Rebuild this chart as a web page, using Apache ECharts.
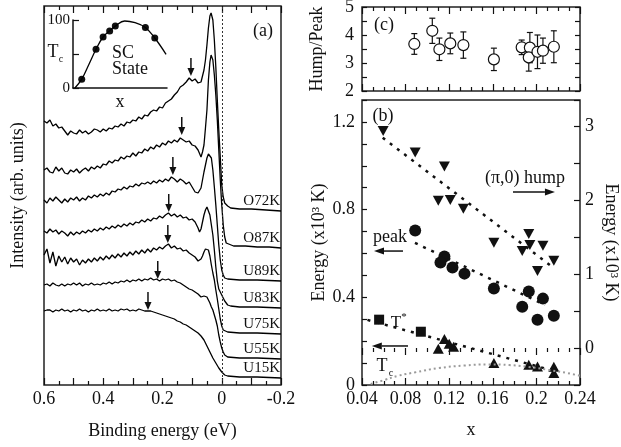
<!DOCTYPE html>
<html>
<head>
<meta charset="utf-8">
<script src="https://cdn.jsdelivr.net/npm/echarts@6.0.0/dist/echarts.min.js"></script>
<style>
html,body{margin:0;padding:0;background:#fff;}
#chart{width:621px;height:447px;}
</style>
</head>
<body>
<div id="chart"></div>
<script>
// ---------- (a) ARPES spectra: [binding energy (eV), intensity (arb. units)] ----------
const specO72K = [[0.60,264],[0.59,262],[0.58,265],[0.57,259],[0.56,261],[0.55,257],[0.54,258],[0.53,254],[0.52,250],[0.51,254],[0.50,252],[0.49,251],[0.48,255],[0.47,252],[0.46,254],[0.45,251],[0.44,253],[0.43,256],[0.42,255],[0.41,253],[0.40,256],[0.39,254],[0.38,257],[0.37,256],[0.36,259],[0.35,258],[0.34,261],[0.33,259],[0.32,263],[0.31,262],[0.30,265],[0.29,264],[0.28,268],[0.27,266],[0.26,270],[0.25,269],[0.24,273],[0.23,275],[0.22,274],[0.21,278],[0.20,277],[0.19,282],[0.18,284],[0.17,286],[0.16,290],[0.15,293],[0.14,298],[0.13,300],[0.12,303],[0.11,307],[0.10,304],[0.09,306],[0.08,302],[0.075,304],[0.07,303],[0.065,309],[0.06,315],[0.055,325],[0.05,340],[0.045,357],[0.04,369],[0.036,372],[0.03,365],[0.025,345],[0.02,318],[0.015,285],[0.01,255],[0.005,228],[0,200],[-0.005,188],[-0.01,182],[-0.02,179],[-0.03,177],[-0.06,176],[-0.10,176],[-0.15,175],[-0.20,174]];
const specO87K = [[0.60,215],[0.59,217],[0.58,213],[0.57,212],[0.56,218],[0.55,214],[0.54,217],[0.53,212],[0.52,211],[0.51,215],[0.50,213],[0.49,216],[0.48,212],[0.47,215],[0.46,217],[0.45,214],[0.44,218],[0.43,216],[0.42,219],[0.41,217],[0.40,221],[0.39,220],[0.38,224],[0.37,222],[0.36,225],[0.35,224],[0.34,228],[0.33,226],[0.32,229],[0.31,228],[0.30,232],[0.29,229],[0.28,233],[0.27,232],[0.26,236],[0.25,234],[0.24,238],[0.23,236],[0.22,240],[0.21,238],[0.20,242],[0.19,240],[0.18,244],[0.17,242],[0.16,245],[0.15,243],[0.14,247],[0.135,249],[0.13,245],[0.12,243],[0.11,244],[0.10,240],[0.09,239],[0.08,235],[0.07,228],[0.065,233],[0.06,240],[0.055,257],[0.05,275],[0.045,305],[0.04,323],[0.036,330],[0.03,325],[0.025,310],[0.02,290],[0.015,265],[0.01,235],[0.005,205],[0,180],[-0.005,160],[-0.01,148],[-0.015,142],[-0.02,140],[-0.04,139],[-0.08,139],[-0.12,138],[-0.16,138],[-0.20,137]];
const specU89K = [[0.60,185],[0.59,182],[0.58,187],[0.57,184],[0.56,188],[0.55,185],[0.54,182],[0.53,186],[0.52,183],[0.51,187],[0.50,185],[0.49,188],[0.48,184],[0.47,187],[0.46,185],[0.45,189],[0.44,187],[0.43,190],[0.42,188],[0.41,191],[0.40,189],[0.39,192],[0.38,190],[0.37,194],[0.36,193],[0.35,196],[0.34,195],[0.33,198],[0.32,196],[0.31,199],[0.30,198],[0.29,201],[0.28,199],[0.27,202],[0.26,201],[0.25,203],[0.24,201],[0.23,204],[0.22,202],[0.21,205],[0.20,203],[0.19,206],[0.18,204],[0.17,208],[0.16,206],[0.15,203],[0.14,206],[0.13,204],[0.12,201],[0.11,203],[0.10,198],[0.09,193],[0.08,192],[0.07,197],[0.065,205],[0.06,213],[0.055,220],[0.05,227],[0.045,231],[0.04,232],[0.035,227],[0.03,215],[0.025,198],[0.02,180],[0.015,160],[0.01,140],[0.005,125],[0,115],[-0.005,110],[-0.01,107],[-0.02,106],[-0.06,105],[-0.12,105],[-0.20,104]];
const specU83K = [[0.60,154],[0.59,152],[0.58,156],[0.57,153],[0.56,155],[0.55,151],[0.54,154],[0.53,152],[0.52,149],[0.51,153],[0.50,150],[0.49,153],[0.48,151],[0.47,154],[0.46,152],[0.45,155],[0.44,153],[0.43,156],[0.42,154],[0.41,157],[0.40,155],[0.39,158],[0.38,156],[0.37,159],[0.36,157],[0.35,160],[0.34,158],[0.33,161],[0.32,159],[0.31,162],[0.30,160],[0.29,163],[0.28,162],[0.27,165],[0.26,163],[0.25,166],[0.24,164],[0.23,167],[0.22,166],[0.21,169],[0.20,167],[0.19,170],[0.18,172],[0.17,169],[0.16,171],[0.15,168],[0.14,170],[0.13,167],[0.12,168],[0.11,165],[0.10,166],[0.09,163],[0.08,157],[0.075,153],[0.07,156],[0.065,163],[0.06,170],[0.055,175],[0.05,178],[0.045,176],[0.04,170],[0.035,160],[0.03,150],[0.025,135],[0.02,118],[0.015,104],[0.01,96],[0.005,93],[0,90],[-0.005,87],[-0.01,84],[-0.02,80],[-0.03,79],[-0.06,78],[-0.12,78],[-0.20,77]];
const specU75K = [[0.60,130],[0.59,136],[0.58,122],[0.57,133],[0.56,119],[0.55,129],[0.54,123],[0.53,128],[0.52,121],[0.51,127],[0.50,123],[0.49,126],[0.48,120],[0.47,125],[0.46,122],[0.45,126],[0.44,123],[0.43,127],[0.42,124],[0.41,128],[0.40,125],[0.39,129],[0.38,126],[0.37,130],[0.36,127],[0.35,131],[0.34,128],[0.33,132],[0.32,129],[0.31,133],[0.30,130],[0.29,134],[0.28,131],[0.27,135],[0.26,132],[0.25,136],[0.24,133],[0.23,137],[0.22,135],[0.21,138],[0.20,136],[0.19,139],[0.18,141],[0.17,137],[0.16,139],[0.15,136],[0.14,137],[0.13,134],[0.12,135],[0.11,132],[0.10,130],[0.09,128],[0.08,124],[0.075,123],[0.07,126],[0.065,129],[0.06,133],[0.055,136],[0.05,137],[0.045,135],[0.04,129],[0.035,120],[0.03,112],[0.025,105],[0.02,95],[0.015,86],[0.01,76],[0.005,66],[0,59],[-0.005,55],[-0.01,53],[-0.02,53],[-0.06,52],[-0.12,52],[-0.20,51]];
const specU55K = [[0.60,100],[0.59,101],[0.58,99],[0.57,102],[0.56,100],[0.55,99],[0.54,101],[0.53,99],[0.52,101],[0.51,100],[0.50,102],[0.49,100],[0.48,102],[0.47,99],[0.46,101],[0.45,100],[0.44,102],[0.43,100],[0.42,101],[0.41,100],[0.40,102],[0.39,101],[0.38,103],[0.37,101],[0.36,103],[0.35,102],[0.34,104],[0.33,103],[0.32,105],[0.31,103],[0.30,105],[0.29,104],[0.28,106],[0.27,104],[0.26,106],[0.25,105],[0.24,107],[0.23,105],[0.22,106],[0.21,104],[0.20,106],[0.19,105],[0.18,106],[0.17,104],[0.16,105],[0.15,103],[0.14,102],[0.13,100],[0.12,98],[0.11,96],[0.10,95],[0.09,93],[0.08,91],[0.07,88],[0.06,89],[0.055,90],[0.05,88],[0.045,85],[0.04,82],[0.035,78],[0.03,75],[0.025,70],[0.02,65],[0.015,59],[0.01,50],[0.005,43],[0,37],[-0.005,33],[-0.01,30],[-0.02,28],[-0.06,27],[-0.12,27],[-0.20,26]];
const specU15K = [[0.60,74],[0.59,75],[0.58,75],[0.57,73],[0.56,75],[0.55,74],[0.54,76],[0.53,74],[0.52,75],[0.51,73],[0.50,75],[0.49,74],[0.48,76],[0.47,74],[0.46,75],[0.45,73],[0.44,75],[0.43,74],[0.42,76],[0.41,74],[0.40,75],[0.39,74],[0.38,76],[0.37,74],[0.36,75],[0.35,74],[0.34,76],[0.33,75],[0.32,76],[0.31,74],[0.30,75],[0.29,74],[0.28,76],[0.27,75],[0.26,74],[0.25,74],[0.24,74],[0.23,73],[0.22,72],[0.21,71],[0.20,70],[0.19,69],[0.18,68],[0.17,67],[0.16,66],[0.15,64],[0.14,63],[0.13,61],[0.12,60],[0.11,58],[0.10,56],[0.09,54],[0.08,52],[0.07,49],[0.06,45],[0.05,39],[0.04,33],[0.03,27],[0.02,22],[0.01,17],[0,13],[-0.01,10],[-0.02,9],[-0.06,8],[-0.12,8],[-0.20,7]];

const spectrumNames = ['O72K','O87K','U89K','U83K','U75K','U55K','U15K'];
const spectrumData  = [specO72K, specO87K, specU89K, specU83K, specU75K, specU55K, specU15K];
// (π,0) hump position marked on each spectrum: [binding energy, intensity at arrow tip]
const humpArrows = [[0.104,309],[0.135,250],[0.165,210],[0.179,173],[0.182,142],[0.216,106],[0.249,75]];

// ---------- inset: superconducting dome, Tc vs x ----------
const domeCurve   = [[0.02,0],[0.093,13],[0.17,35],[0.245,57],[0.32,75],[0.39,84],[0.45,91],[0.55,98.5],[0.66,96],[0.77,89],[0.87,73.5],[0.99,49.5]];
const domeSamples = [[0.093,13],[0.245,57],[0.32,75],[0.39,84],[0.45,91],[0.77,89],[0.87,73.5]];

// ---------- (c) hump/peak ratio: [x, ratio, error] ----------
const ratioData = [[0.088,3.68,0.37],[0.1045,4.15,0.45],[0.111,3.49,0.40],[0.121,3.70,0.37],[0.133,3.64,0.47],[0.161,3.13,0.40],[0.1865,3.56,0.26],[0.194,3.55,0.54],[0.193,3.20,0.49],[0.201,3.40,0.60],[0.206,3.44,0.45],[0.216,3.58,0.57]];

// ---------- (b) energy scales ----------
const humpEnergy = [[0.0594,2.93],[0.0888,2.64],[0.1156,2.45],[0.110,1.99],[0.121,2.00],[0.133,1.88],[0.161,1.42],[0.187,1.31],[0.193,1.54],[0.194,1.39],[0.206,1.38],[0.201,1.04],[0.216,1.18]]; // right axis
const peakEnergy = [[0.0888,0.705],[0.1156,0.586],[0.112,0.559],[0.123,0.536],[0.134,0.508],[0.161,0.44],[0.187,0.357],[0.193,0.426],[0.206,0.394],[0.201,0.298],[0.216,0.316]];
const tStarSquares   = [[0.0557,0.298],[0.094,0.243]];
const tStarTriangles = [[0.110,0.165],[0.1156,0.21],[0.120,0.188],[0.124,0.174],[0.161,0.10],[0.193,0.092],[0.201,0.084],[0.216,0.083],[0.216,0.055]];
const humpFit  = [[0.059,2.84],[0.216,1.08]];
const peakFit  = [[0.0886,0.648],[0.208,0.365]];
const tStarFit = [[0.045,0.297],[0.215,0.066]];
const tcLine   = [[0.048,0.005],[0.06,0.022],[0.073,0.042],[0.089,0.058],[0.11,0.077],[0.134,0.089],[0.156,0.094],[0.175,0.091],[0.192,0.083],[0.211,0.069],[0.229,0.054],[0.24,0.042]];

const INK = '#111';
const FONT = '"Liberation Serif", "Times New Roman", serif';
const lineStyleInk = {color: INK, width: 1.2};
const nameStyle = {fontFamily: FONT, fontSize: 18, color: INK};
const labelStyle = {fontFamily: FONT, fontSize: 18, color: INK};
const solidInk = {color: INK, opacity: 1};

function tickAxis(extra) {
  return Object.assign({
    type: 'value',
    axisLine: {show: false},
    splitLine: {show: false},
    axisTick: {show: true, inside: true, length: 6, lineStyle: lineStyleInk},
    axisLabel: {show: false},
    axisPointer: {show: false}
  }, extra);
}

// arrow drawn as a shaft plus a filled head, both placed through the axes
function arrowItems(from, to, headLen, headHalf) {
  return {from, to, headLen, headHalf};
}

const chart = echarts.init(document.getElementById('chart'), null, {renderer: 'canvas'});

const frame = {show: true, borderColor: '#222', borderWidth: 1.5, backgroundColor: 'transparent', outerBoundsMode: 'none', containLabel: false};

const spectrumSeries = spectrumData.map((d, i) => ({
  type: 'line', name: spectrumNames[i], xAxisIndex: 0, yAxisIndex: 0,
  data: d, showSymbol: false, symbol: 'none', silent: true,
  lineStyle: {color: '#000', width: 1.3, opacity: 1}, z: 3,
  markPoint: {
    silent: true, symbol: 'circle', symbolSize: 0, itemStyle: {color: 'transparent'},
    label: {show: true, position: 'left', distance: 1, offset: [0, -10], formatter: spectrumNames[i],
            fontFamily: FONT, fontSize: 15, color: INK},
    data: [{coord: d[d.length - 1]}]
  }
}));

// custom renderer for arrows given as [x0, y0, x1, y1] in data units
function arrowRenderer(headLen, headHalf, width) {
  return (params, api) => {
    const p0 = api.coord([api.value(0), api.value(1)]);
    const p1 = api.coord([api.value(2), api.value(3)]);
    const dx = p1[0] - p0[0], dy = p1[1] - p0[1];
    const L = Math.sqrt(dx * dx + dy * dy) || 1;
    const ux = dx / L, uy = dy / L;
    const bx = p1[0] - ux * headLen, by = p1[1] - uy * headLen;
    return {type: 'group', children: [
      {type: 'line', shape: {x1: p0[0], y1: p0[1], x2: bx, y2: by}, style: {stroke: INK, lineWidth: width}},
      {type: 'polygon', shape: {points: [[p1[0], p1[1]], [bx - uy * headHalf, by + ux * headHalf], [bx + uy * headHalf, by - ux * headHalf]]},
        style: {fill: INK}}
    ]};
  };
}

const humpArrowData = humpArrows.map(([e, tip]) => [e, tip + 18, e, tip]);
const panelBArrows = [
  [0.1785, 0.880, 0.217, 0.880],
  [0.0776, 0.611, 0.051, 0.611],
  [0.0822, 0.178, 0.049, 0.178]
];

const option = {
  animation: false,
  backgroundColor: '#fff',
  textStyle: {fontFamily: FONT},
  grid: [
    Object.assign({left: 44, top: 6, width: 237, height: 379}, frame),
    {left: 73, top: 20, width: 94, height: 68, show: false, outerBoundsMode: 'none', containLabel: false},
    Object.assign({left: 362, top: 7, width: 218, height: 84}, frame),
    Object.assign({left: 362, top: 100, width: 218, height: 285}, frame)
  ],
  xAxis: [
    tickAxis({gridIndex: 0, position: 'bottom', min: -0.2, max: 0.6, interval: 0.1, inverse: true,
      axisTick: {show: true, inside: true, length: 7, lineStyle: lineStyleInk},
      minorTick: {show: true, splitNumber: 2, length: 4, lineStyle: lineStyleInk},
      axisLabel: Object.assign({show: true, margin: 5, formatter: v => {
        const k = Math.round(v * 10); return k % 2 === 0 ? (k === 0 ? '0' : String(k / 10)) : ''; }}, labelStyle),
      name: 'Binding energy (eV)', nameLocation: 'middle', nameGap: 37, nameTextStyle: nameStyle}),
    tickAxis({gridIndex: 0, position: 'top', min: -0.2, max: 0.6, interval: 0.1, inverse: true,
      axisTick: {show: true, inside: true, length: 7, lineStyle: lineStyleInk},
      minorTick: {show: true, splitNumber: 2, length: 4, lineStyle: lineStyleInk}}),
    {type: 'value', gridIndex: 1, min: 0, max: 1,
      axisLine: {show: true, onZero: false, lineStyle: {color: INK, width: 1.5}},
      axisTick: {show: false}, axisLabel: {show: false}, splitLine: {show: false},
      name: 'x', nameLocation: 'middle', nameGap: 5, nameTextStyle: nameStyle},
    tickAxis({gridIndex: 2, position: 'bottom', min: 0.04, max: 0.24, interval: 0.04,
      axisTick: {show: true, inside: true, length: 7, lineStyle: lineStyleInk},
      minorTick: {show: true, splitNumber: 4, length: 4, lineStyle: lineStyleInk}}),
    tickAxis({gridIndex: 2, position: 'top', min: 0.04, max: 0.24, interval: 0.04,
      axisTick: {show: true, inside: true, length: 7, lineStyle: lineStyleInk},
      minorTick: {show: true, splitNumber: 4, length: 4, lineStyle: lineStyleInk}}),
    tickAxis({gridIndex: 3, position: 'bottom', min: 0.04, max: 0.24, interval: 0.04,
      axisTick: {show: true, inside: true, length: 7, lineStyle: lineStyleInk},
      minorTick: {show: true, splitNumber: 4, length: 4, lineStyle: lineStyleInk},
      axisLabel: Object.assign({show: true, margin: 5, formatter: v => {
        const k = Math.round(v * 100); return k % 4 === 0 ? String(k / 100) : ''; }}, labelStyle),
      name: 'x', nameLocation: 'middle', nameGap: 36, nameTextStyle: nameStyle}),
    tickAxis({gridIndex: 3, position: 'top', min: 0.04, max: 0.24, interval: 0.04,
      axisTick: {show: true, inside: true, length: 7, lineStyle: lineStyleInk},
      minorTick: {show: true, splitNumber: 4, length: 4, lineStyle: lineStyleInk}})
  ],
  yAxis: [
    {type: 'value', gridIndex: 0, min: 0, max: 379,
      axisLine: {show: false}, axisTick: {show: false}, axisLabel: {show: false}, splitLine: {show: false},
      name: 'Intensity (arb. units)', nameLocation: 'middle', nameGap: 17, nameTextStyle: nameStyle},
    {type: 'value', gridIndex: 1, min: 0, max: 100, interval: 50,
      axisLine: {show: true, onZero: false, lineStyle: {color: INK, width: 1.5}},
      axisTick: {show: true, inside: true, length: 6, lineStyle: {color: INK, width: 1.2}},
      axisLabel: {show: true, margin: 3, fontFamily: FONT, fontSize: 15, color: INK,
        formatter: v => (v === 50 ? '' : String(v))},
      splitLine: {show: false}},
    tickAxis({gridIndex: 2, position: 'left', min: 2, max: 5, interval: 0.5, axisTick: {show: true, inside: true, length: 5, lineStyle: lineStyleInk},
      axisLabel: Object.assign({show: true, margin: 8, formatter: v => (Math.abs(v - Math.round(v)) < 1e-6 ? String(Math.round(v)) : '')}, labelStyle),
      name: 'Hump/Peak', nameLocation: 'middle', nameGap: 36, nameTextStyle: nameStyle}),
    tickAxis({gridIndex: 2, position: 'right', min: 2, max: 5, interval: 0.5, axisTick: {show: true, inside: true, length: 5, lineStyle: lineStyleInk}}),
    tickAxis({gridIndex: 3, position: 'left', min: 0, max: 1.3, interval: 0.1, axisTick: {show: true, inside: true, length: 5, lineStyle: lineStyleInk},
      axisLabel: Object.assign({show: true, margin: 7, formatter: v => {
        const k = Math.round(v * 10); return k % 4 === 0 ? (k === 0 ? '0' : (k / 10).toFixed(1)) : ''; }}, labelStyle),
      name: 'Energy (x10³ K)', nameLocation: 'middle', nameGap: 34, nameTextStyle: nameStyle}),
    tickAxis({gridIndex: 3, position: 'right', min: -0.5, max: 3.35, interval: 0.5, axisTick: {show: true, inside: true, length: 6, lineStyle: lineStyleInk},
      axisLabel: Object.assign({show: true, margin: 5, formatter: v => (v >= 0 && Math.abs(v - Math.round(v)) < 1e-6 ? String(Math.round(v)) : '')}, labelStyle),
      name: 'Energy (x10³ K)', nameLocation: 'middle', nameGap: 22, nameRotate: -90, nameTextStyle: nameStyle})
  ],
  series: [
    ...spectrumSeries,
    // Fermi level in (a)
    {type: 'line', xAxisIndex: 0, yAxisIndex: 0, data: [], silent: true,
      markLine: {silent: true, symbol: ['none', 'none'], label: {show: false},
        lineStyle: {color: '#333', width: 1, type: [2, 2]}, data: [{xAxis: 0}]}},
    // hump arrows in (a)
    {type: 'custom', xAxisIndex: 0, yAxisIndex: 0, data: humpArrowData, silent: true, z: 5,
      encode: {x: [0, 2], y: [1, 3]}, renderItem: arrowRenderer(8, 3.5, 1.5)},
    // inset
    {type: 'line', xAxisIndex: 2, yAxisIndex: 1, data: domeCurve, smooth: 0.4, showSymbol: false, symbol: 'none', silent: true,
      lineStyle: {color: '#000', width: 1.3}},
    {type: 'scatter', xAxisIndex: 2, yAxisIndex: 1, data: domeSamples, symbol: 'circle', symbolSize: 7, silent: true,
      itemStyle: solidInk},
    // (c) error bars and open circles
    {type: 'custom', xAxisIndex: 3, yAxisIndex: 2, data: ratioData, silent: true, encode: {x: 0, y: 1}, z: 2,
      renderItem: (params, api) => {
        const x = api.value(0), y = api.value(1), e = api.value(2);
        const top = api.coord([x, y + e]), bot = api.coord([x, y - e]);
        const w = 3, st = {stroke: INK, lineWidth: 1.2};
        return {type: 'group', children: [
          {type: 'line', shape: {x1: top[0], y1: top[1], x2: bot[0], y2: bot[1]}, style: st},
          {type: 'line', shape: {x1: top[0] - w, y1: top[1], x2: top[0] + w, y2: top[1]}, style: st},
          {type: 'line', shape: {x1: bot[0] - w, y1: bot[1], x2: bot[0] + w, y2: bot[1]}, style: st}
        ]};
      }},
    {type: 'scatter', xAxisIndex: 3, yAxisIndex: 2, data: ratioData.map(r => [r[0], r[1]]), symbol: 'circle', symbolSize: 11, silent: true, z: 3,
      itemStyle: {color: '#fff', borderColor: INK, borderWidth: 1.2, opacity: 1}},
    // (b)
    {type: 'line', xAxisIndex: 5, yAxisIndex: 5, data: humpFit, showSymbol: false, symbol: 'none', silent: true,
      lineStyle: {color: INK, width: 2.5, type: [3, 6]}},
    {type: 'line', xAxisIndex: 5, yAxisIndex: 4, data: peakFit, showSymbol: false, symbol: 'none', silent: true,
      lineStyle: {color: INK, width: 2.5, type: [3, 6]}},
    {type: 'line', xAxisIndex: 5, yAxisIndex: 4, data: tStarFit, showSymbol: false, symbol: 'none', silent: true,
      lineStyle: {color: INK, width: 2.5, type: [3, 6]}},
    {type: 'line', xAxisIndex: 5, yAxisIndex: 4, data: tcLine, smooth: 0.4, showSymbol: false, symbol: 'none', silent: true,
      lineStyle: {color: '#9a9a9a', width: 2, type: [2, 3]}},
    {type: 'scatter', xAxisIndex: 5, yAxisIndex: 5, data: humpEnergy, symbol: 'triangle', symbolRotate: 180, symbolSize: [11, 10], silent: true,
      itemStyle: solidInk},
    {type: 'scatter', xAxisIndex: 5, yAxisIndex: 4, data: peakEnergy, symbol: 'circle', symbolSize: 12, silent: true,
      itemStyle: solidInk},
    {type: 'scatter', xAxisIndex: 5, yAxisIndex: 4, data: tStarSquares, symbol: 'rect', symbolSize: 10, silent: true,
      itemStyle: solidInk},
    {type: 'scatter', xAxisIndex: 5, yAxisIndex: 4, data: tStarTriangles, symbol: 'triangle', symbolSize: [11, 10], silent: true,
      itemStyle: solidInk},
    {type: 'custom', xAxisIndex: 5, yAxisIndex: 4, data: panelBArrows, silent: true, z: 5,
      encode: {x: [0, 2], y: [1, 3]}, renderItem: arrowRenderer(10, 3.5, 1.5)}
  ],
  graphic: [
    {type: 'text', x: 263, y: 31, style: {text: '(a)', font: '18px ' + FONT, fill: INK, align: 'center', verticalAlign: 'middle'}},
    {type: 'text', x: 384, y: 25, style: {text: '(c)', font: '18px ' + FONT, fill: INK, align: 'center', verticalAlign: 'middle'}},
    {type: 'text', x: 383, y: 116, style: {text: '(b)', font: '18px ' + FONT, fill: INK, align: 'center', verticalAlign: 'middle'}},
    {type: 'text', x: 112, y: 45, style: {text: 'SC\nState', font: '18px ' + FONT, lineHeight: 16, fill: INK, align: 'left', verticalAlign: 'top'}},
    {type: 'text', x: 53, y: 52, style: {text: 'T', font: '18px ' + FONT, fill: INK, align: 'center', verticalAlign: 'middle'}},
    {type: 'text', x: 61, y: 59, style: {text: 'c', font: '10px ' + FONT, fill: INK, align: 'center', verticalAlign: 'middle'}},
    {type: 'text', x: 525, y: 178, style: {text: '(π,0) hump', font: '18px ' + FONT, fill: INK, align: 'center', verticalAlign: 'middle'}},
    {type: 'text', x: 390, y: 237, style: {text: 'peak', font: '18px ' + FONT, fill: INK, align: 'center', verticalAlign: 'middle'}},
    {type: 'text', x: 396, y: 323, style: {text: 'T', font: '17px ' + FONT, fill: INK, align: 'center', verticalAlign: 'middle'}},
    {type: 'text', x: 404, y: 317, style: {text: '*', font: '11px ' + FONT, fill: INK, align: 'center', verticalAlign: 'middle'}},
    {type: 'text', x: 382, y: 366, style: {text: 'T', font: '18px ' + FONT, fill: INK, align: 'center', verticalAlign: 'middle'}},
    {type: 'text', x: 391, y: 373, style: {text: 'c', font: '10px ' + FONT, fill: INK, align: 'center', verticalAlign: 'middle'}}
  ]
};

chart.setOption(option);
</script>
</body>
</html>
